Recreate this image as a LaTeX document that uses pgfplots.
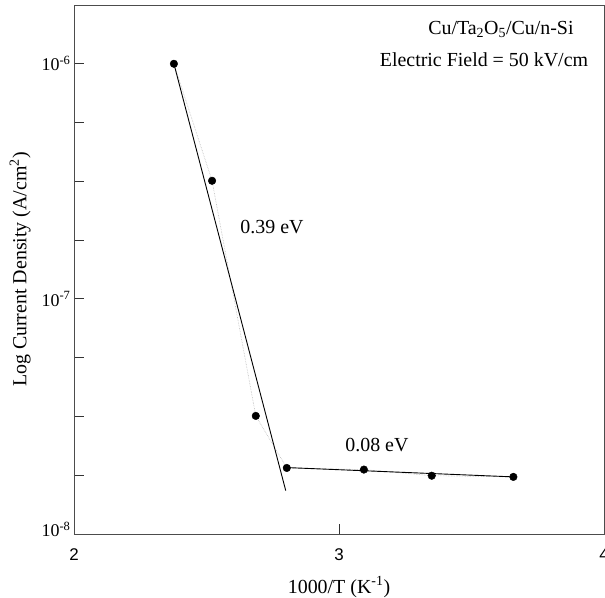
\documentclass[border=0pt]{standalone}
\usepackage{fontspec}
\setmainfont{Liberation Serif}
\setsansfont{Liberation Sans}
\usepackage{pgfplots}
\pgfplotsset{compat=1.18}

\begin{document}
\begin{tikzpicture}
\begin{axis}[
  scale only axis, width=530bp, height=529bp,
  xmin=2, xmax=4, ymode=log, ymin=1e-8, ymax=1.778e-6,
  axis line style={black!70, line width=0.9bp},
  tick align=inside, xtick pos=bottom, ytick pos=left,
  major tick length=10bp, minor tick length=10bp,
  every tick/.style={black!80, line width=0.8bp},
  xtick={2,3,4}, xticklabels={2,3,4},
  xticklabel style={font=\sffamily\fontsize{17}{20}\selectfont, yshift=-11bp},
  ytick={1e-8,1e-7,1e-6},
  yticklabels={\raisebox{10bp}{10\textsuperscript{-8}},10\textsuperscript{-7},10\textsuperscript{-6}},
  minor ytick={1.778e-8,3.162e-8,5.623e-8,1.778e-7,3.162e-7,5.623e-7},
  yticklabel style={font=\fontsize{18}{21}\selectfont},
  xlabel={1000/T (K\textsuperscript{-1})},
  ylabel={Log Current Density (A/cm\textsuperscript{2})},
  label style={font=\fontsize{20}{24}\selectfont},
  xlabel style={yshift=-9bp},
  ylabel style={yshift=4bp},
  clip=false
]
% dotted guide through the points
\addplot[gray!55, densely dotted, line width=0.6bp] coordinates
  {(2.377,1.0e-6) (2.521,3.18e-7) (2.686,3.18e-8) (2.803,1.91e-8) (3.094,1.88e-8) (3.350,1.77e-8) (3.658,1.75e-8)};
% fits
\addplot[black, line width=0.9bp] coordinates {(2.377,1.0e-6) (2.799,1.53e-8)};
\addplot[black, line width=0.9bp] coordinates {(2.79,1.92e-8) (3.658,1.75e-8)};
% measured points
\addplot[only marks, mark=*, mark size=3.8bp, black] coordinates
  {(2.377,1.0e-6) (2.521,3.18e-7) (2.686,3.18e-8) (2.803,1.91e-8) (3.094,1.88e-8) (3.350,1.77e-8) (3.658,1.75e-8)};

\node[font=\fontsize{20}{24}\selectfont] at (axis cs:2.747,2.02e-7) {0.39 eV};
\node[font=\fontsize{20}{24}\selectfont] at (axis cs:3.143,2.39e-8) {0.08 eV};
\node[font=\fontsize{20}{24}\selectfont] at (axis cs:3.611,1.40e-6) {Cu/Ta\textsubscript{2}O\textsubscript{5}/Cu/n-Si};
\node[font=\fontsize{20}{24}\selectfont] at (axis cs:3.547,1.04e-6) {Electric Field = 50 kV/cm};
\end{axis}
\pgfresetboundingbox
\path[use as bounding box] ([xshift=-74bp,yshift=-64bp]current axis.south west) rectangle ([xshift=1bp,yshift=5bp]current axis.north east);
\end{tikzpicture}
\end{document}
